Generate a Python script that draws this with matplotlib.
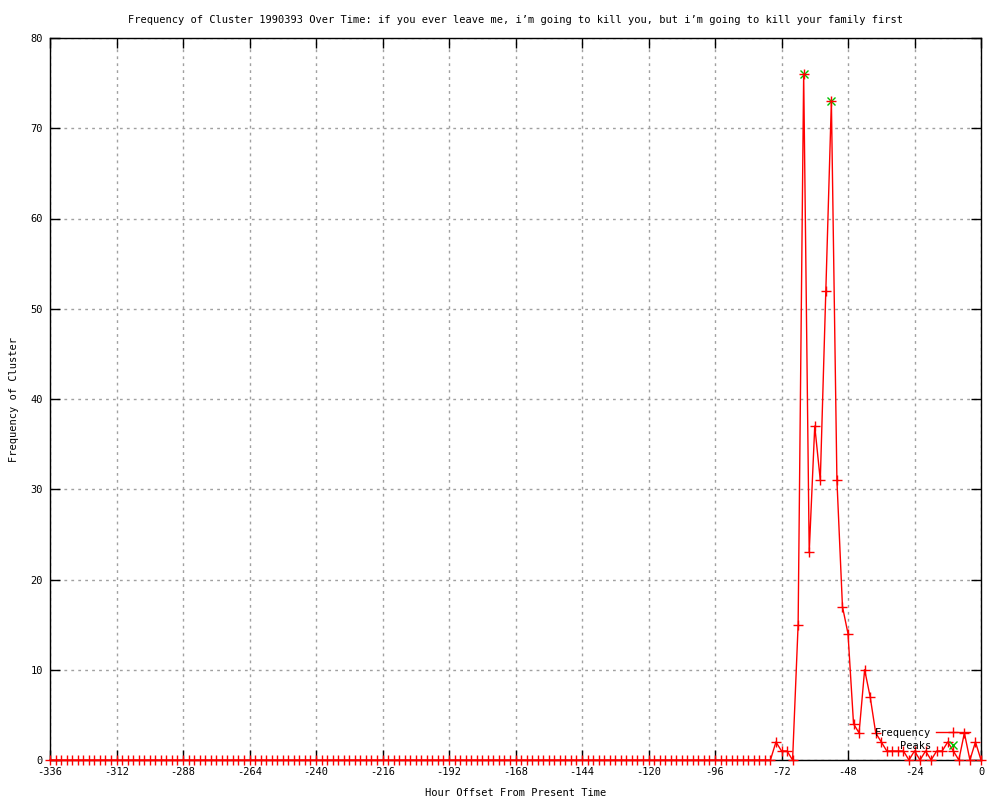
import matplotlib
matplotlib.use("Agg")
import matplotlib.pyplot as plt
import numpy as np

# hours from -336 to 0, one sample every 2 hours
hours = np.arange(-336, 1, 2)

# non-zero counts (all others are 0)
active_hours = [-74, -72, -70, -68, -66, -64, -62, -60, -58, -56, -54, -52, -50, -48,
                -46, -44, -42, -40, -38, -36, -34, -32, -30, -28, -26, -24, -22, -20,
                -18, -16, -14, -12, -10, -8, -6, -4, -2, 0]
active_counts = [2, 1, 1, 0, 15, 76, 23, 37, 31, 52, 73, 31, 17, 14,
                 4, 3, 10, 7, 3, 2, 1, 1, 1, 1, 0, 1, 0, 1,
                 0, 1, 1, 2, 1, 0, 3, 0, 2, 0]

peak_hours = [-64, -54]
peak_counts = [76, 73]

freq = np.zeros(len(hours))
for h, c in zip(active_hours, active_counts):
    freq[hours == h] = c

title = ("Frequency of Cluster 1990393 Over Time: if you ever leave me, "
         "i\u2019m going to kill you, but i\u2019m going to kill your family first")

plt.rcParams["font.family"] = ["DejaVu Sans Mono"]
plt.rcParams["axes.unicode_minus"] = False

fig = plt.figure(figsize=(10, 8), dpi=100)
ax = fig.add_axes([0.05, 0.05, 0.931, 0.9025])

ax.plot(hours, freq, color="red", linewidth=1, marker="+", markersize=7,
        markeredgewidth=1, label="Frequency", clip_on=False, zorder=3)
ax.plot(peak_hours, peak_counts, linestyle="none", color="#00c000", marker="x",
        markersize=6, markeredgewidth=1, label="Peaks", clip_on=False, zorder=2)

ax.set_xlim(-336, 0)
ax.set_ylim(0, 80)
ax.set_xticks(np.arange(-336, 1, 24))
ax.set_yticks(np.arange(0, 81, 10))
ax.tick_params(direction="in", length=7, width=1, top=True, right=True,
               labelsize=7.5, pad=5)
ax.grid(True, color="#a0a0a0", linestyle=(0, (2, 3)), linewidth=1)
for s in ax.spines.values():
    s.set_linewidth(1)

ax.set_title(title, fontsize=7.5, pad=11)
ax.set_xlabel("Hour Offset From Present Time", fontsize=7.5, labelpad=8)
ax.set_ylabel("Frequency of Cluster", fontsize=7.5, labelpad=8)

ax.legend(loc="lower right", bbox_to_anchor=(0.988, 0.013), frameon=False,
          markerfirst=False, fontsize=7.5, handlelength=3.2, labelspacing=0.25,
          handletextpad=0.5, borderpad=0, borderaxespad=0)

fig.savefig("out.png", dpi=100)
